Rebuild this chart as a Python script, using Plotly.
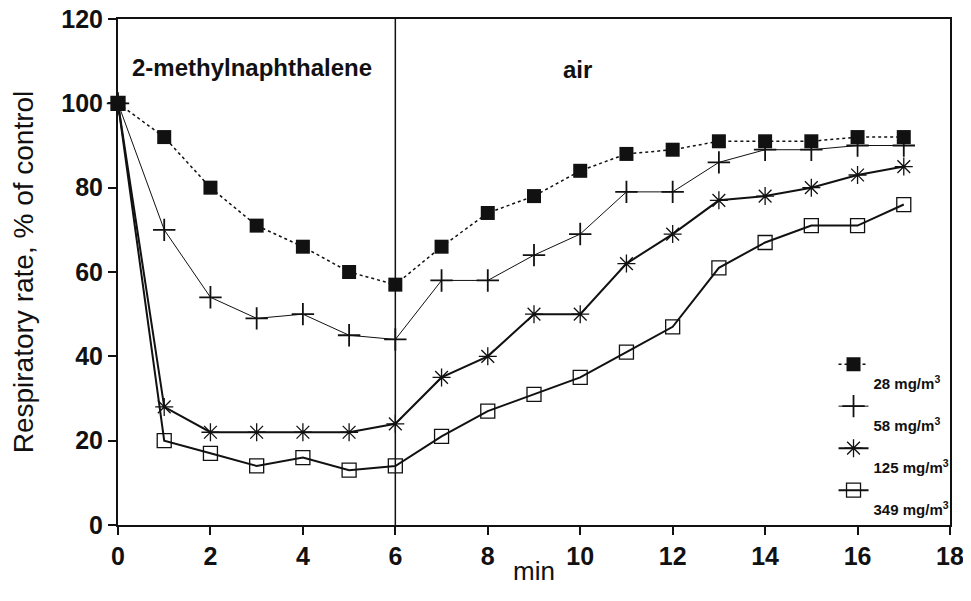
import plotly.graph_objects as go

minutes = list(range(18))
r28 = [100, 92, 80, 71, 66, 60, 57, 66, 74, 78, 84, 88, 89, 91, 91, 91, 92, 92]
r58 = [100, 70, 54, 49, 50, 45, 44, 58, 58, 64, 69, 79, 79, 86, 89, 89, 90, 90]
r125 = [100, 28, 22, 22, 22, 22, 24, 35, 40, 50, 50, 62, 69, 77, 78, 80, 83, 85]
r349 = [100, 20, 17, 14, 16, 13, 14, 21, 27, 31, 35, 41, 47, 61, 67, 71, 71, 76]

labels = ["28 mg/m<sup>3</sup>", "58 mg/m<sup>3</sup>", "125 mg/m<sup>3</sup>", "349 mg/m<sup>3</sup>"]
x_ticks = [0, 2, 4, 6, 8, 10, 12, 14, 16, 18]
y_ticks = [0, 20, 40, 60, 80, 100, 120]

FONT = "Liberation Sans, Arial, sans-serif"
BLACK = "#111111"

fig = go.Figure()

fig.add_trace(go.Scatter(
    x=minutes, y=r28, name="<br>" + labels[0], mode="lines+markers",
    line=dict(color=BLACK, width=1.5, dash="dot"),
    marker=dict(symbol="square", size=14, color=BLACK),
    cliponaxis=False))
fig.add_trace(go.Scatter(
    x=minutes, y=r58, name="<br>" + labels[1], mode="lines+markers",
    line=dict(color=BLACK, width=1),
    marker=dict(symbol="cross-thin", size=16, line=dict(color=BLACK, width=1.8)),
    cliponaxis=False))
fig.add_trace(go.Scatter(
    x=minutes, y=r125, name="<br>" + labels[2], mode="lines+markers",
    line=dict(color=BLACK, width=2),
    marker=dict(symbol="asterisk-open", size=15, line=dict(color=BLACK, width=1.3)),
    cliponaxis=False))
fig.add_trace(go.Scatter(
    x=minutes, y=r349, name="<br>" + labels[3], mode="lines+markers",
    line=dict(color=BLACK, width=2),
    marker=dict(symbol="square-open", size=14, color=BLACK, line=dict(color=BLACK, width=1.3)),
    cliponaxis=False))

fig.add_shape(type="line", x0=6, x1=6, y0=0, y1=120, xref="x", yref="y",
              line=dict(color=BLACK, width=1.5))

fig.add_annotation(x=0.26, y=108.5, text="2-methylnaphthalene", showarrow=False,
                   xanchor="left", yanchor="middle",
                   font=dict(family=FONT, size=24, color=BLACK, weight="bold"))
fig.add_annotation(x=9.95, y=108, text="air", showarrow=False,
                   xanchor="center", yanchor="middle",
                   font=dict(family=FONT, size=24, color=BLACK, weight="bold"))
fig.add_annotation(x=0.5, y=-0.09, xref="paper", yref="paper", text="min",
                   showarrow=False, xanchor="center", yanchor="middle",
                   font=dict(family=FONT, size=26, color=BLACK))

axis_common = dict(showgrid=False, zeroline=False, showline=True, linecolor=BLACK,
                   linewidth=2, mirror=True, ticks="outside", ticklen=8,
                   tickwidth=1.5, tickcolor=BLACK, automargin=False,
                   ticklabeloverflow="allow",
                   tickfont=dict(family=FONT, size=25, color=BLACK, weight="bold"))

fig.update_xaxes(range=[0, 18], tickvals=x_ticks, **axis_common)
fig.update_yaxes(range=[0, 120], tickvals=y_ticks,
                 title=dict(text="Respiratory rate, % of control",
                            font=dict(family=FONT, size=28, color=BLACK), standoff=20),
                 **axis_common)

# page body adds an 8px offset, so the figure is sized to keep the plot box in place
fig.update_layout(
    width=963, height=593,
    margin=dict(l=110, r=21, t=11, b=76),
    paper_bgcolor="white", plot_bgcolor="white",
    font=dict(family=FONT, color=BLACK),
    legend=dict(x=0.86, y=0.35, xanchor="left", yanchor="top",
                valign="top", bgcolor="rgba(0,0,0,0)", tracegroupgap=0,
                itemwidth=30,
                font=dict(family=FONT, size=15, color=BLACK, weight="bold")),
)

fig.write_html("out.html")
